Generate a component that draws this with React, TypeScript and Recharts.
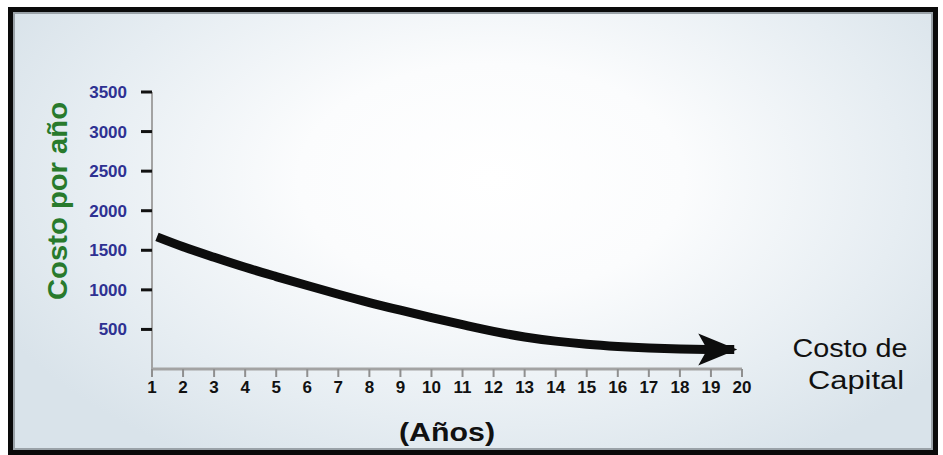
import React from 'react';
import { LineChart, Line, XAxis, YAxis } from 'recharts';

// ---- data ----
const years = [1.16, 2, 3, 4, 5, 6, 7, 8, 9, 10, 11, 12, 13, 14, 15, 16, 17, 18, 19, 19.75];
const costs = [1670, 1545, 1412, 1285, 1168, 1055, 945, 840, 743, 650, 560, 475, 405, 352, 313, 285, 265, 252, 246, 245];
const xTicks = [1, 2, 3, 4, 5, 6, 7, 8, 9, 10, 11, 12, 13, 14, 15, 16, 17, 18, 19, 20];
const yTicks = [500, 1000, 1500, 2000, 2500, 3000, 3500];
const yTitle = 'Costo por año';
const xTitle = '(Años)';
const sideTitle = ['Costo de', 'Capital'];

const data = years.map((year, i) => ({ year, cost: costs[i] }));

const FONT = '"Liberation Sans", Arial, Helvetica, sans-serif';

const ArrowDot = (props: any) => {
  const { cx, cy, index } = props;
  if (index !== data.length - 1 || cx == null || cy == null) {
    return <g key={`dot-${index}`} />;
  }
  const tip = cx + 3;
  const pts = `${tip},${cy} ${tip - 39},${cy - 16} ${tip - 30},${cy} ${tip - 39},${cy + 16}`;
  return <polygon key={`dot-${index}`} points={pts} fill="#0d0d0d" />;
};

const XTitle = (props: any) => {
  const vb = props.viewBox || {};
  const cx = vb.x + vb.width / 2;
  const y = vb.y + 72;
  return (
    <text
      x={cx}
      y={y}
      textAnchor="middle"
      fontFamily={FONT}
      fontWeight="bold"
      fontSize={26}
      fill="#111"
      textLength={96}
      lengthAdjust="spacingAndGlyphs"
    >
      {xTitle}
    </text>
  );
};

const YTitle = (props: any) => {
  const vb = props.viewBox || {};
  const bx = vb.x + 67;
  const by = vb.y + 109;
  return (
    <text
      transform={`translate(${bx}, ${by}) rotate(-90)`}
      x={0}
      y={0}
      textAnchor="middle"
      fontFamily={FONT}
      fontWeight="bold"
      fontSize={28}
      fill="#287a2c"
      textLength={198}
      lengthAdjust="spacingAndGlyphs"
    >
      {yTitle}
    </text>
  );
};

export default function App() {
  return (
    <div style={{ position: 'absolute', left: 0, top: 0, width: 943, height: 455, background: '#fff', overflow: 'hidden' }}>
      <div
        style={{
          position: 'absolute',
          left: 8,
          top: 7,
          width: 920,
          height: 438,
          border: '5px solid #0a0a0a',
          background: 'radial-gradient(ellipse 60% 75% at 52% 38%, #ffffff 0%, #fbfcfd 35%, #e6edf2 75%, #d9e3ea 100%)',
          boxShadow: 'inset 0 0 0 2px #9aa2a8',
        }}
      />
      <div style={{ position: 'absolute', left: 0, top: 0 }}>
        <LineChart
          width={943}
          height={455}
          data={data}
          margin={{ top: 92, right: 201, bottom: 26, left: 0 }}
        >
          <XAxis
            dataKey="year"
            type="number"
            domain={[1, 20]}
            ticks={xTicks}
            interval={0}
            height={60}
            axisLine={{ stroke: '#a3a3a3', strokeWidth: 3 }}
            tickLine={{ stroke: '#8f8f8f', strokeWidth: 2 }}
            tickSize={8}
            tickMargin={4}
            tick={{ fill: '#111', fontSize: 17, fontWeight: 'bold', fontFamily: FONT }}
            label={<XTitle />}
          />
          <YAxis
            type="number"
            domain={[0, 3500]}
            ticks={yTicks}
            interval={0}
            width={152}
            axisLine={{ stroke: '#a3a3a3', strokeWidth: 2 }}
            tickLine={{ stroke: '#111', strokeWidth: 3 }}
            tickSize={11}
            tickMargin={14}
            tick={{ fill: '#2e3192', fontSize: 17, fontWeight: 'bold', fontFamily: FONT }}
            label={<YTitle />}
          />
          <Line
            type="monotone"
            dataKey="cost"
            stroke="#0d0d0d"
            strokeWidth={9}
            strokeLinecap="butt"
            dot={ArrowDot}
            activeDot={false}
            isAnimationActive={false}
          />
        </LineChart>
      </div>
      <svg width={943} height={455} style={{ position: 'absolute', left: 0, top: 0, pointerEvents: 'none' }}>
        <text x={850} y={357} textAnchor="middle" fontFamily={FONT} fontSize={25} fill="#111" textLength={115} lengthAdjust="spacingAndGlyphs">
          {sideTitle[0]}
        </text>
        <text x={856} y={389} textAnchor="middle" fontFamily={FONT} fontSize={25} fill="#111" textLength={96} lengthAdjust="spacingAndGlyphs">
          {sideTitle[1]}
        </text>
      </svg>
    </div>
  );
}
